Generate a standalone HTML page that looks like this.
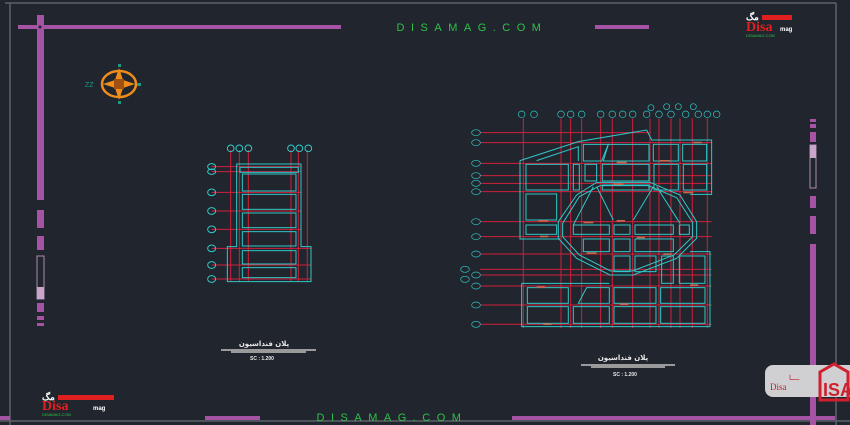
<!DOCTYPE html>
<html><head><meta charset="utf-8"><style>
html,body{margin:0;padding:0;background:#21252d;}
svg{display:block}
</style></head><body>
<svg width="850" height="425" viewBox="0 0 850 425" xmlns="http://www.w3.org/2000/svg" font-family="Liberation Sans, sans-serif">
<rect width="850" height="425" fill="#21252d"/>
<!-- frame -->
<line x1="5" y1="3" x2="836" y2="3" stroke="#5d6168" stroke-width="1.5"/>
<line x1="10" y1="3" x2="10" y2="425" stroke="#5d6168" stroke-width="1.5"/>
<line x1="836" y1="3" x2="836" y2="425" stroke="#5d6168" stroke-width="1.5"/>
<line x1="0" y1="421" x2="850" y2="421" stroke="#5d6168" stroke-width="1.5"/>
<g fill="#a554a5">
<rect x="18" y="25" width="323" height="4"/>
<rect x="595" y="25" width="54" height="4"/>
<rect x="37" y="15" width="7" height="185"/>
<rect x="37" y="210" width="7" height="18"/>
<rect x="37" y="236" width="7" height="14"/>
<rect x="37" y="303" width="7" height="9"/>
<rect x="37" y="316" width="7" height="4"/>
<rect x="37" y="323" width="7" height="3"/>
<rect x="810" y="119" width="6" height="3"/>
<rect x="810" y="124" width="6" height="4"/>
<rect x="810" y="132" width="6" height="10"/>
<rect x="810" y="196" width="6" height="12"/>
<rect x="810" y="216" width="6" height="18"/>
<rect x="810" y="244" width="6" height="181"/>
<rect x="0" y="416" width="10" height="4"/>
<rect x="205" y="416" width="55" height="4"/>
<rect x="512" y="416" width="323" height="4"/>
</g>
<circle cx="40" cy="27" r="1.5" fill="#21252d"/>
<rect x="37" y="256" width="7" height="43" fill="none" stroke="#b08ab0"/>
<rect x="37" y="287" width="7" height="12" fill="#c9a6c9"/>
<rect x="810" y="145" width="6" height="43" fill="none" stroke="#b08ab0"/>
<rect x="810" y="145" width="6" height="13" fill="#c9a6c9"/>
<text x="472" y="31" fill="#2ec24a" font-size="11" text-anchor="middle" letter-spacing="6.5">DISAMAG.COM</text>
<text x="392" y="421" fill="#2ec24a" font-size="11" text-anchor="middle" letter-spacing="6.5">DISAMAG.COM</text>
<!-- logos -->
<g><text x="746" y="31" fill="#e02020" font-size="14" font-family="Liberation Serif, serif" font-weight="bold">Disa</text><rect x="762" y="15" width="30" height="5" fill="#e02020"/><text x="746" y="20" fill="#fff" font-size="9" font-weight="bold">مگ</text><text x="780" y="31" fill="#fff" font-size="6" font-weight="bold">mag</text><text x="746" y="37" fill="#2ec24a" font-size="4">DISAMAG.COM</text></g>
<g><text x="42" y="410" fill="#e02020" font-size="14" font-family="Liberation Serif, serif" font-weight="bold">Disa</text><rect x="58" y="395" width="56" height="5" fill="#e02020"/><text x="42" y="400" fill="#fff" font-size="9" font-weight="bold">مگ</text><text x="93" y="410" fill="#fff" font-size="6" font-weight="bold">mag</text><text x="42" y="416" fill="#2ec24a" font-size="4">DISAMAG.COM</text></g>
<rect x="765" y="365" width="95" height="32" rx="8" fill="#d0d0d2"/>
<text x="770" y="390" fill="#c02030" font-size="9" font-family="Liberation Serif, serif">Disa</text>
<text x="789" y="380" fill="#c02030" font-size="7">ــــا</text>
<path d="M820 372 L834 364 L848 372 L848 400 L820 400 Z" fill="none" stroke="#d02030" stroke-width="3"/>
<text x="823" y="396" fill="#d02030" font-size="18" font-weight="bold">ISA</text>
<!-- compass -->
<g transform="translate(119,84)">
<ellipse rx="17" ry="13" fill="none" stroke="#f08c1a" stroke-width="2.5"/>
<path d="M0 -16 L4 -4 L16 0 L4 4 L0 16 L-4 4 L-16 0 L-4 -4Z" fill="#f08c1a"/>
<rect x="-5" y="-5" width="10" height="10" fill="#a05010"/>
<rect x="-1" y="-20" width="3" height="3" fill="#1a9a80"/><rect x="-1" y="17" width="3" height="3" fill="#1a9a80"/>
<rect x="18" y="-1" width="4" height="3" fill="#1a9a80"/><text x="-34" y="3" fill="#1a9a80" font-size="7">ZZ</text>
</g>
<!-- left plan -->
<g transform="translate(190,135) scale(0.3333)" stroke-width="3" fill="none">
<g stroke="#d0203c">
<line x1="122" y1="45" x2="122" y2="440"/><line x1="148" y1="45" x2="148" y2="440"/><line x1="175" y1="45" x2="175" y2="440"/>
<line x1="303" y1="45" x2="303" y2="440"/><line x1="325" y1="45" x2="325" y2="440"/><line x1="352" y1="45" x2="352" y2="440"/>
<line x1="65" y1="95" x2="335" y2="95"/><line x1="65" y1="110" x2="335" y2="110"/><line x1="65" y1="172" x2="335" y2="172"/><line x1="65" y1="228" x2="335" y2="228"/><line x1="65" y1="283" x2="335" y2="283"/><line x1="65" y1="340" x2="362" y2="340"/><line x1="65" y1="390" x2="362" y2="390"/><line x1="65" y1="432" x2="362" y2="432"/>
</g>
<g stroke="#30c8c8">
<path d="M140 87 H333 V335 H363 V440 H112 V335 H140 Z"/>
<rect x="150" y="97" width="175" height="15"/>
<rect x="157" y="117" width="161" height="51"/><rect x="157" y="178" width="161" height="45"/><rect x="157" y="234" width="161" height="44"/><rect x="157" y="290" width="161" height="43"/><rect x="157" y="347" width="161" height="40"/><rect x="157" y="398" width="161" height="30"/>
<circle cx="122" cy="40" r="10"/><circle cx="148" cy="40" r="10"/><circle cx="175" cy="40" r="10"/><circle cx="303" cy="40" r="10"/><circle cx="328" cy="40" r="10"/><circle cx="355" cy="40" r="10"/>
<ellipse cx="65" cy="95" rx="12" ry="9"/><ellipse cx="65" cy="110" rx="12" ry="8"/><ellipse cx="65" cy="172" rx="12" ry="10"/><ellipse cx="65" cy="228" rx="12" ry="10"/><ellipse cx="65" cy="283" rx="12" ry="10"/><ellipse cx="65" cy="340" rx="12" ry="10"/><ellipse cx="65" cy="390" rx="12" ry="10"/><ellipse cx="65" cy="432" rx="12" ry="10"/>
</g>
</g>
<!-- right plan -->
<g transform="translate(450,95) scale(0.3333)" stroke-width="3" fill="none">
<g stroke="#d0203c">
<line x1="90" y1="113" x2="600" y2="113"/>
<line x1="90" y1="143" x2="785" y2="143"/><line x1="90" y1="205" x2="785" y2="205"/><line x1="90" y1="242" x2="785" y2="242"/><line x1="90" y1="265" x2="785" y2="265"/><line x1="90" y1="290" x2="785" y2="290"/><line x1="90" y1="380" x2="785" y2="380"/><line x1="90" y1="425" x2="785" y2="425"/><line x1="90" y1="477" x2="785" y2="477"/><line x1="90" y1="523" x2="785" y2="523"/><line x1="90" y1="540" x2="785" y2="540"/><line x1="90" y1="573" x2="785" y2="573"/><line x1="90" y1="630" x2="785" y2="630"/><line x1="90" y1="688" x2="785" y2="688"/>
<line x1="220" y1="70" x2="220" y2="700"/><line x1="333" y1="70" x2="333" y2="700"/><line x1="362" y1="70" x2="362" y2="700"/><line x1="395" y1="70" x2="395" y2="700"/><line x1="452" y1="70" x2="452" y2="700"/><line x1="487" y1="70" x2="487" y2="700"/><line x1="548" y1="70" x2="548" y2="700"/><line x1="600" y1="70" x2="600" y2="700"/><line x1="627" y1="70" x2="627" y2="700"/><line x1="663" y1="70" x2="663" y2="700"/><line x1="690" y1="70" x2="690" y2="700"/><line x1="727" y1="70" x2="727" y2="700"/><line x1="772" y1="70" x2="772" y2="700"/>
</g>
<g stroke="#30c8c8">
<path d="M210 197 L385 140 L590 105 L605 135 L785 135 V298 H720 M210 197 V432 H330"/>
<path d="M215 565 H478 M720 470 H780 V695 H215 V565"/>
<path d="M260 197 L385 155 V198"/>
<path d="M400 148 H475 L455 198 H400 Z"/><path d="M475 148 H597 V198 H460 Z"/><rect x="610" y="148" width="75" height="50"/><rect x="698" y="148" width="72" height="50"/>
<rect x="228" y="208" width="127" height="77"/><rect x="370" y="208" width="18" height="77"/><rect x="405" y="208" width="35" height="50"/><rect x="457" y="208" width="140" height="50"/><rect x="457" y="270" width="140" height="15"/><rect x="612" y="208" width="73" height="77"/><rect x="700" y="208" width="70" height="77"/>
<rect x="228" y="297" width="92" height="78"/>
<rect x="228" y="390" width="92" height="28"/><rect x="370" y="390" width="108" height="28"/><rect x="492" y="390" width="48" height="28"/><rect x="555" y="390" width="115" height="28"/><rect x="688" y="390" width="30" height="28"/>
<rect x="400" y="432" width="78" height="38"/><rect x="492" y="432" width="48" height="38"/><rect x="555" y="432" width="115" height="38"/>
<rect x="492" y="483" width="48" height="47"/><rect x="555" y="483" width="63" height="47"/><rect x="635" y="483" width="35" height="82"/><rect x="688" y="483" width="77" height="82"/>
<rect x="232" y="578" width="123" height="47"/><path d="M410 578 H478 V625 H385 Z"/><rect x="492" y="578" width="126" height="47"/><rect x="632" y="578" width="133" height="47"/>
<rect x="232" y="635" width="123" height="50"/><rect x="370" y="635" width="108" height="50"/><rect x="492" y="635" width="126" height="50"/><rect x="632" y="635" width="133" height="50"/>
<path d="M440 262 L600 262 L690 300 L740 380 L740 430 L680 490 L550 540 L480 540 L380 490 L325 430 L325 380 L380 300 Z"/>
<path d="M450 272 L595 272 L680 308 L728 383 L728 425 L672 480 L548 528 L482 528 L388 480 L338 425 L338 385 L388 305 Z"/>
<path d="M430 275 L370 390 M440 275 L490 375 M610 275 L550 375 M620 275 L690 385"/>
<g stroke-width="2">
<circle cx="215" cy="58" r="10"/><circle cx="252" cy="58" r="10"/><circle cx="333" cy="58" r="10"/><circle cx="362" cy="58" r="10"/><circle cx="395" cy="58" r="10"/><circle cx="452" cy="58" r="10"/><circle cx="487" cy="58" r="10"/><circle cx="518" cy="58" r="10"/><circle cx="548" cy="58" r="10"/><circle cx="590" cy="58" r="10"/><circle cx="627" cy="58" r="10"/><circle cx="663" cy="58" r="10"/><circle cx="707" cy="58" r="10"/><circle cx="745" cy="58" r="10"/><circle cx="772" cy="58" r="10"/><circle cx="800" cy="58" r="10"/>
<circle cx="603" cy="38" r="9"/><circle cx="650" cy="35" r="9"/><circle cx="685" cy="35" r="9"/><circle cx="730" cy="35" r="9"/>
<ellipse cx="78" cy="113" rx="13" ry="9"/><ellipse cx="78" cy="143" rx="13" ry="9"/><ellipse cx="78" cy="205" rx="13" ry="9"/><ellipse cx="78" cy="242" rx="13" ry="9"/><ellipse cx="78" cy="265" rx="13" ry="9"/><ellipse cx="78" cy="290" rx="13" ry="9"/><ellipse cx="78" cy="380" rx="13" ry="9"/><ellipse cx="78" cy="425" rx="13" ry="9"/><ellipse cx="78" cy="477" rx="13" ry="9"/><ellipse cx="45" cy="523" rx="13" ry="9"/><ellipse cx="78" cy="540" rx="13" ry="9"/><ellipse cx="45" cy="553" rx="13" ry="9"/><ellipse cx="78" cy="573" rx="13" ry="9"/><ellipse cx="78" cy="630" rx="13" ry="9"/><ellipse cx="78" cy="688" rx="13" ry="9"/>
</g>
</g>
<g fill="#c06a50"><rect x="260" y="574" width="25" height="5"/><rect x="500" y="200" width="30" height="5"/><rect x="490" y="265" width="30" height="5"/><rect x="265" y="375" width="30" height="5"/><rect x="400" y="380" width="30" height="5"/><rect x="500" y="375" width="25" height="5"/><rect x="270" y="422" width="25" height="5"/><rect x="560" y="425" width="25" height="5"/><rect x="410" y="472" width="30" height="5"/><rect x="640" y="475" width="25" height="5"/><rect x="720" y="568" width="25" height="5"/><rect x="510" y="625" width="25" height="5"/><rect x="280" y="685" width="25" height="5"/><rect x="700" y="290" width="30" height="5"/><rect x="730" y="140" width="25" height="5"/><rect x="630" y="195" width="30" height="5"/></g>
</g>
<!-- titles -->
<text x="264" y="346" fill="#e8e8e8" font-size="7" font-weight="bold" text-anchor="middle" font-family="DejaVu Sans, sans-serif">پلان فنداسیون</text>
<rect x="221" y="349" width="95" height="2" fill="#9a9a9a"/><rect x="231" y="351" width="75" height="2" fill="#9a9a9a"/>
<text x="262" y="360" fill="#e8e8e8" font-size="5" font-weight="bold" text-anchor="middle">SC :    1.200</text>
<text x="623" y="360" fill="#e8e8e8" font-size="7" font-weight="bold" text-anchor="middle" font-family="DejaVu Sans, sans-serif">پلان فنداسیون</text>
<rect x="581" y="364" width="94" height="2" fill="#9a9a9a"/><rect x="591" y="366" width="74" height="2" fill="#9a9a9a"/>
<text x="625" y="376" fill="#e8e8e8" font-size="5" font-weight="bold" text-anchor="middle">SC :    1.200</text>
</svg>
</body></html>
